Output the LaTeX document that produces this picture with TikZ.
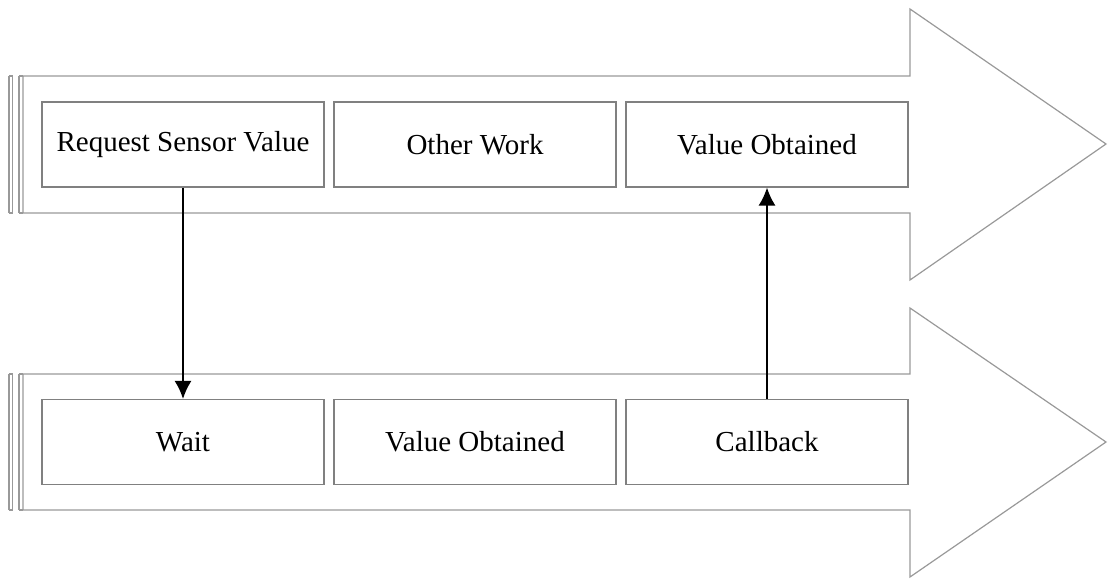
\documentclass[tikz,border=0pt]{standalone}
\usepackage{fontspec}
\setmainfont{Liberation Serif}
\usetikzlibrary{arrows.meta}
\begin{document}
\begin{tikzpicture}[x=1pt,y=-1pt,
  outline/.style={draw=black!40,line width=1.2pt,line join=miter},
  stage/.style={draw=black!50,line width=1.1pt,minimum width=282pt,minimum height=85pt,inner sep=0pt,font=\fontsize{29}{32}\selectfont},
  conn/.style={draw=black,line width=1.8pt,-{Latex[length=18pt,width=17pt]}}]
\useasboundingbox (0,0) rectangle (1113,578);
% top arrow
\draw[outline] (23,76) -- (910,76) -- (910,9) -- (1106,144) -- (910,280) -- (910,213) -- (23,213) -- cycle;
\draw[outline] (9,76) -- (9,213) (12.5,76) -- (12.5,213) (19,76) -- (19,213);
\draw[outline] (9,76) -- (12.5,76) (9,213) -- (12.5,213) (19,76) -- (23,76) (19,213) -- (23,213);
% bottom arrow
\draw[outline] (23,374) -- (910,374) -- (910,308) -- (1106,442) -- (910,577) -- (910,510) -- (23,510) -- cycle;
\draw[outline] (9,374) -- (9,510) (12.5,374) -- (12.5,510) (19,374) -- (19,510);
\draw[outline] (9,374) -- (12.5,374) (9,510) -- (12.5,510) (19,374) -- (23,374) (19,510) -- (23,510);
% boxes
\node[stage] (req) at (183,144.5) {Request Sensor Value};
\node[stage] (other) at (475,144.5) {Other Work};
\node[stage] (val1) at (767,144.5) {Value Obtained};
\node[stage] (wait) at (183,442) {Wait};
\node[stage] (val2) at (475,442) {Value Obtained};
\node[stage] (cb) at (767,442) {Callback};
% connectors
\draw[conn] (req.south) -- (wait.north);
\draw[conn] (cb.north) -- (val1.south);
\end{tikzpicture}
\end{document}
